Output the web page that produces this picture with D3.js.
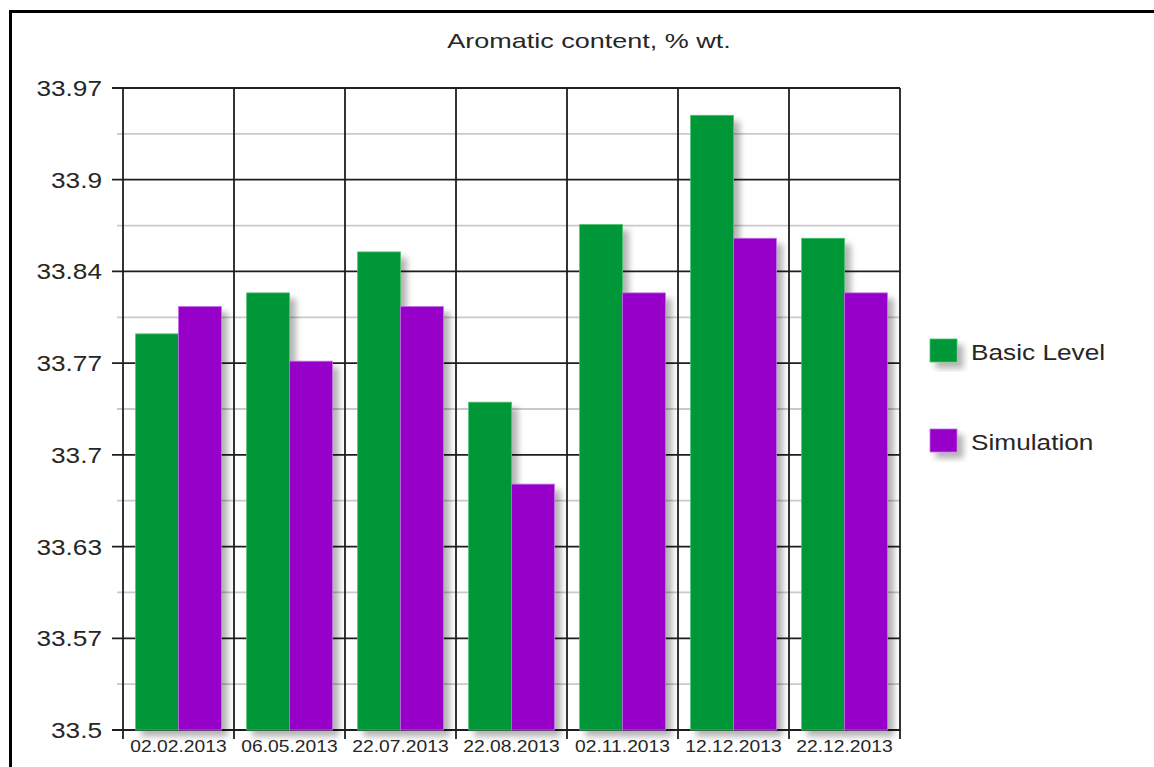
<!DOCTYPE html>
<html>
<head>
<meta charset="utf-8">
<script src="https://cdn.jsdelivr.net/npm/d3@7/dist/d3.min.js"></script>
<style>
  html, body { margin: 0; padding: 0; background: #fff; }
  svg { display: block; }
  text { font-family: "Liberation Sans", Arial, Helvetica, sans-serif; fill: #262626; }
</style>
</head>
<body>
<svg id="chart" width="1154" height="767"></svg>
<script>
// Aromatic content by sampling date
const dates = ["02.02.2013", "06.05.2013", "22.07.2013", "22.08.2013", "02.11.2013", "12.12.2013", "22.12.2013"];
const basicLevel = [33.79, 33.82, 33.85, 33.74, 33.87, 33.95, 33.86];
const simulation = [33.81, 33.77, 33.81, 33.68, 33.82, 33.86, 33.82];
const seriesNames = ["Basic Level", "Simulation"];
const seriesColors = ["#039737", "#9600c9"];
const seriesEdges = ["#4cc06e", "#c46ae6"];
const yMin = 33.5, yMax = 33.97;
const yTickLabels = ["33.5", "33.57", "33.63", "33.7", "33.77", "33.84", "33.9", "33.97"];
const title = "Aromatic content, % wt.";

const svg = d3.select("#chart");
const plot = { left: 123, right: 900, top: 88, bottom: 730 };
const textStretch = 1.22;

// drop shadow for bars and legend swatches
const defs = svg.append("defs");
const f = defs.append("filter").attr("id", "shadow")
  .attr("x", "-20%").attr("y", "-20%").attr("width", "160%").attr("height", "160%");
f.append("feGaussianBlur").attr("in", "SourceAlpha").attr("stdDeviation", 3).attr("result", "b");
f.append("feOffset").attr("in", "b").attr("dx", 6).attr("dy", 6).attr("result", "o");
f.append("feComponentTransfer").attr("in", "o").attr("result", "s")
  .append("feFuncA").attr("type", "linear").attr("slope", 0.3);
const m = f.append("feMerge");
m.append("feMergeNode").attr("in", "s");
m.append("feMergeNode").attr("in", "SourceGraphic");

// outer frame
svg.append("rect")
  .attr("x", 10.5).attr("y", 11.5).attr("width", 1300).attr("height", 900)
  .attr("fill", "none").attr("stroke", "#000").attr("stroke-width", 3);

const x = d3.scaleBand().domain(dates).range([plot.left, plot.right]).padding(0);
const bw = x.bandwidth();
const xs = d3.scaleBand().domain(seriesNames).range([bw * 0.114, bw * 0.886]).padding(0);
const y = d3.scaleLinear().domain([yMin, yMax]).range([plot.bottom, plot.top]);

const step = (yMax - yMin) / (yTickLabels.length - 1);
const majorTicks = d3.range(yTickLabels.length).map(i => yMin + i * step);
const minorTicks = d3.range(yTickLabels.length - 1).map(i => yMin + (i + 0.5) * step);

// minor grid
svg.append("g").selectAll("line").data(minorTicks).join("line")
  .attr("x1", plot.left - 6).attr("x2", plot.right)
  .attr("y1", d => y(d)).attr("y2", d => y(d))
  .attr("stroke", "#c9c9c9").attr("stroke-width", 1.8);

// major grid with left tick marks
svg.append("g").selectAll("line").data(majorTicks).join("line")
  .attr("x1", plot.left - 11).attr("x2", plot.right)
  .attr("y1", d => y(d)).attr("y2", d => y(d))
  .attr("stroke", "#1e1e1e").attr("stroke-width", 1.8);

// vertical category boundaries
const bounds = dates.map(d => x(d)).concat([plot.right]);
svg.append("g").selectAll("line").data(bounds).join("line")
  .attr("x1", d => d).attr("x2", d => d)
  .attr("y1", plot.top).attr("y2", plot.bottom + 9)
  .attr("stroke", "#1e1e1e").attr("stroke-width", 1.8);

// y labels
svg.append("g").selectAll("text").data(majorTicks).join("text")
  .attr("transform", (d) => `translate(102,${y(d) + 8}) scale(${textStretch},1)`)
  .attr("text-anchor", "end").attr("font-size", 21.5)
  .text((d, i) => yTickLabels[i]);

// x labels
svg.append("g").selectAll("text").data(dates).join("text")
  .attr("transform", d => `translate(${x(d) + bw / 2},752) scale(${textStretch},1)`)
  .attr("text-anchor", "middle").attr("font-size", 15.8)
  .text(d => d);

// bars
const rows = dates.map((d, i) => ({ date: d, values: [basicLevel[i], simulation[i]] }));
const groups = svg.append("g").selectAll("g").data(rows).join("g")
  .attr("transform", d => `translate(${x(d.date)},0)`);
groups.selectAll("rect").data(d => d.values.map((v, k) => ({ v, k }))).join("rect")
  .attr("x", d => xs(seriesNames[d.k]))
  .attr("width", xs.bandwidth())
  .attr("y", d => y(d.v))
  .attr("height", d => y(yMin) - y(d.v))
  .attr("fill", d => seriesColors[d.k])
  .attr("stroke", d => seriesEdges[d.k]).attr("stroke-width", 0.8)
  .attr("filter", "url(#shadow)");

// title
svg.append("text")
  .attr("transform", `translate(589,48) scale(1.35,1)`)
  .attr("text-anchor", "middle").attr("font-size", 20)
  .text(title);

// legend
const legend = svg.append("g").selectAll("g").data(seriesNames).join("g")
  .attr("transform", (d, i) => `translate(930,${339 + i * 90})`);
legend.append("rect")
  .attr("width", 27).attr("height", 23)
  .attr("fill", (d, i) => seriesColors[i])
  .attr("stroke", (d, i) => seriesEdges[i]).attr("stroke-width", 0.8)
  .attr("filter", "url(#shadow)");
legend.append("text")
  .attr("transform", `translate(41,21) scale(${textStretch},1)`)
  .attr("font-size", 21.5)
  .text(d => d);
</script>
</body>
</html>
